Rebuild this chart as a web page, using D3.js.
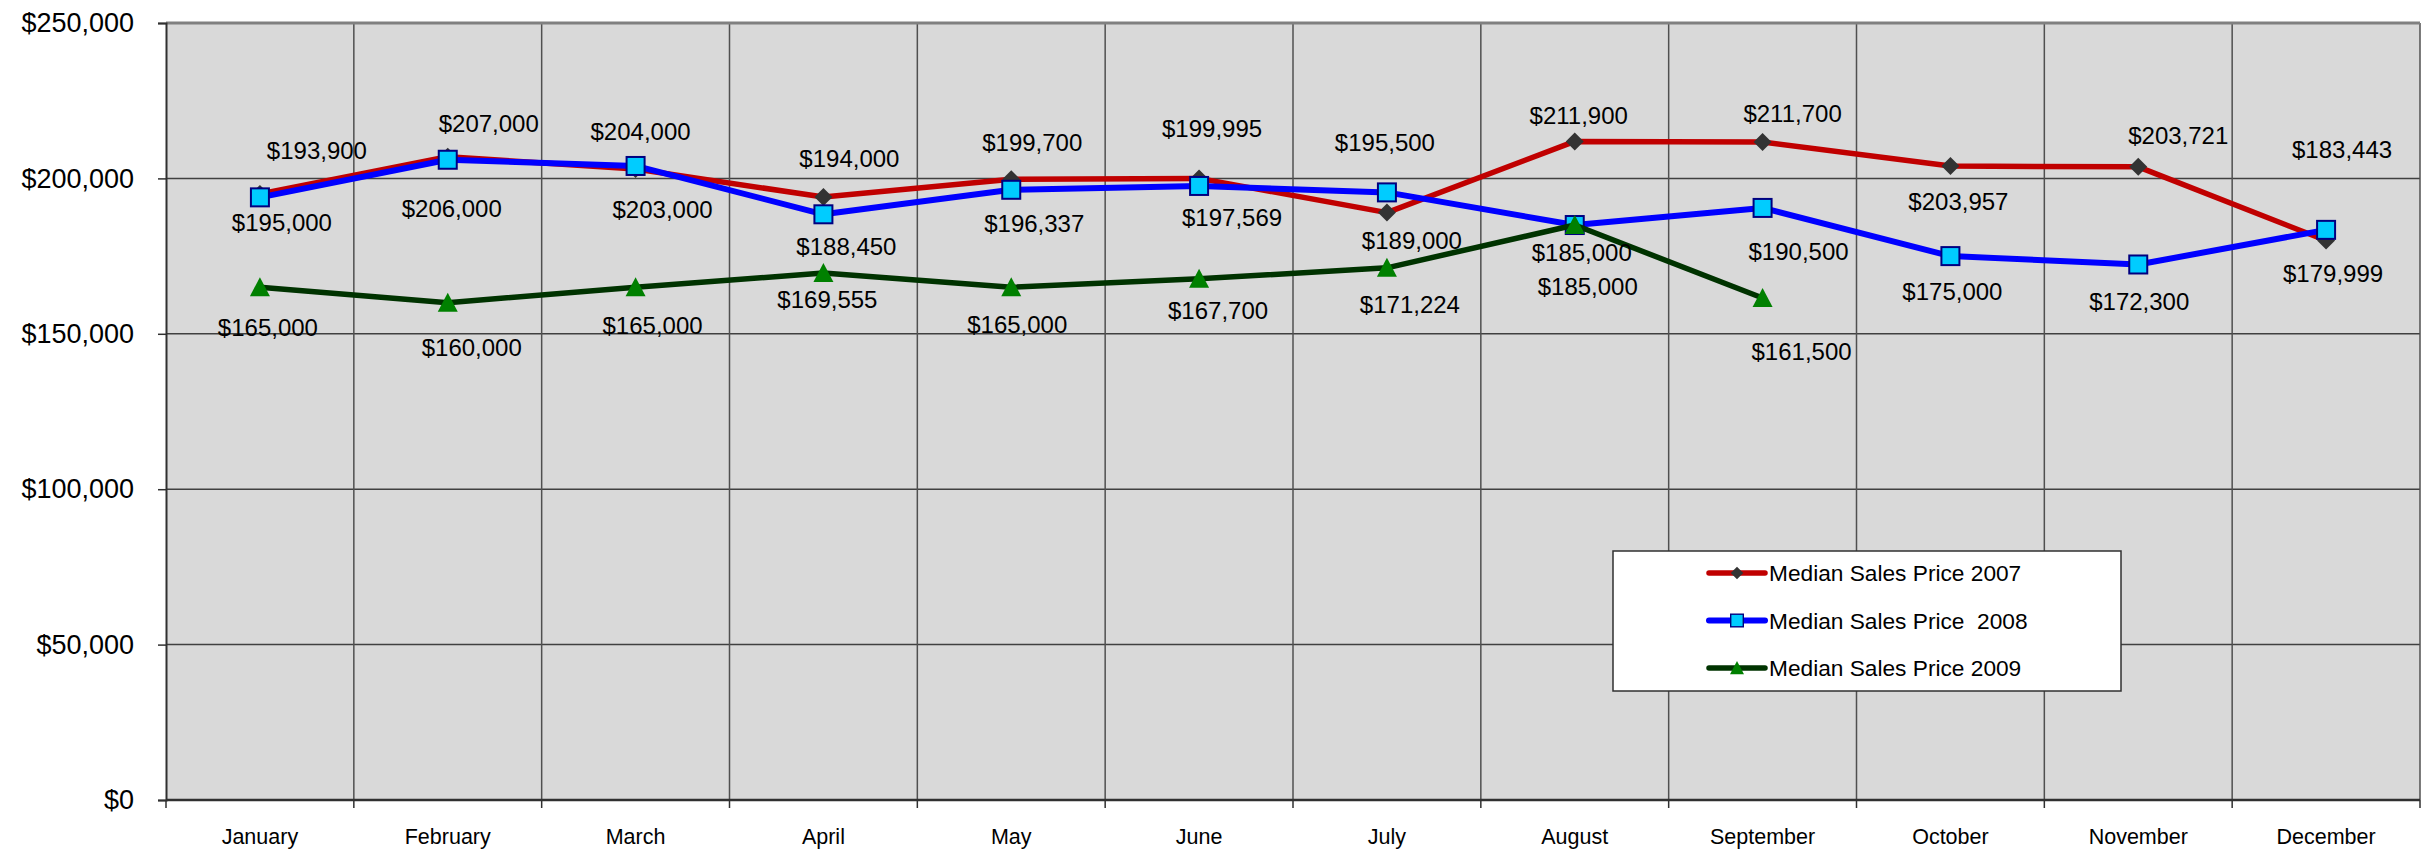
<!DOCTYPE html>
<html>
<head>
<meta charset="utf-8">
<script src="https://cdn.jsdelivr.net/npm/d3@7"></script>
<style>
  body { margin: 0; background: #fff; }
  text { font-family: "Liberation Sans", Arial, sans-serif; fill: #000; }
</style>
</head>
<body>
<div id="chart"></div>
<script>
// --------------------------------------
//  Data
// --------------------------------------

const months = ["January", "February", "March", "April", "May", "June",
  "July", "August", "September", "October", "November", "December"];

const sales2007 = [195000, 207000, 203000, 194000, 199700, 199995, 189000, 211900, 211700, 203957, 203721, 179999];
const sales2008 = [193900, 206000, 204000, 188450, 196337, 197569, 195500, 185000, 190500, 175000, 172300, 183443];
const sales2009 = [165000, 160000, 165000, 169555, 165000, 167700, 171224, 185000, 161500];

const yTicks = [0, 50000, 100000, 150000, 200000, 250000];

const seriesNames = ["Median Sales Price 2007", "Median Sales Price  2008", "Median Sales Price 2009"];

// label nudges (px) from each point, as placed in the original
const nudge2007 = [[22, 29], [41, -33], [27, 40], [26, -39], [21, -37], [13, -50], [25, 28], [4, -26], [30, -29], [8, 35], [40, -31], [7, 33]];
const nudge2008 = [[57, -47], [4, 49], [5, -34], [23, 32], [23, 34], [33, 32], [-2, -50], [7, 27], [36, 44], [2, 35], [1, 37], [16, -80]];
const nudge2009 = [[8, 40], [24, 45], [17, 38], [4, 26], [6, 37], [19, 32], [23, 37], [13, 61], [39, 53]];

// --------------------------------------
//  Margin and canvas
// --------------------------------------

const width = 2427;
const height = 851;
const margin = {top: 23, right: 7, bottom: 51, left: 166};
const innerwidth = width - margin.left - margin.right;
const innerheight = height - margin.top - margin.bottom;

const svg = d3.select("#chart")
  .append("svg")
    .attr("width", width)
    .attr("height", height);

const inner = svg.append("g")
  .attr("transform", `translate(${margin.left}, ${margin.top})`);

// --------------------------------------
//  Scales
// --------------------------------------

const x = d3.scaleBand()
  .domain(months)
  .range([0, innerwidth])
  .padding(0);

const y = d3.scaleLinear()
  .domain([0, 250000])
  .range([innerheight, 0]);

const cx = m => x(m) + x.bandwidth() / 2;
const fmt = v => "$" + d3.format(",")(v);

// --------------------------------------
//  Plot area, grid
// --------------------------------------

inner.append("rect")
  .attr("width", innerwidth)
  .attr("height", innerheight)
  .attr("fill", "#d9d9d9");

inner.append("g")
  .selectAll("line")
  .data(yTicks.slice(1, -1))
  .join("line")
    .attr("x1", 0).attr("x2", innerwidth)
    .attr("y1", d => y(d)).attr("y2", d => y(d))
    .attr("stroke", "#404040")
    .attr("stroke-width", 1.5);

const bounds = months.map(m => x(m)).concat([innerwidth]);

inner.append("g")
  .selectAll("line")
  .data(bounds.slice(1))
  .join("line")
    .attr("x1", d => d).attr("x2", d => d)
    .attr("y1", 0).attr("y2", innerheight)
    .attr("stroke", "#505050")
    .attr("stroke-width", 1.5);

// top border
inner.append("line")
  .attr("x1", 0).attr("x2", innerwidth)
  .attr("y1", 0).attr("y2", 0)
  .attr("stroke", "#808080")
  .attr("stroke-width", 3);

// --------------------------------------
//  Axes
// --------------------------------------

const yAxis = inner.append("g")
  .call(d3.axisLeft(y).tickValues(yTicks).tickFormat(fmt).tickSize(8).tickPadding(24));

yAxis.select(".domain").attr("stroke", "#303030").attr("stroke-width", 2);
yAxis.selectAll(".tick line").attr("stroke", "#303030").attr("stroke-width", 1.5);
yAxis.selectAll(".tick text")
  .style("font-family", "'Liberation Sans', Arial, sans-serif")
  .style("font-size", "27px")
  .attr("fill", "#000");

const xAxis = inner.append("g")
  .attr("transform", `translate(0, ${innerheight})`);

xAxis.append("line")
  .attr("x1", 0).attr("x2", innerwidth)
  .attr("stroke", "#303030")
  .attr("stroke-width", 2.5);

xAxis.selectAll(".xtick")
  .data(bounds)
  .join("line")
    .attr("class", "xtick")
    .attr("x1", d => d).attr("x2", d => d)
    .attr("y1", 0).attr("y2", 8)
    .attr("stroke", "#303030")
    .attr("stroke-width", 1.5);

xAxis.selectAll(".xlabel")
  .data(months)
  .join("text")
    .attr("class", "xlabel")
    .attr("x", d => cx(d))
    .attr("y", 37)
    .attr("text-anchor", "middle")
    .attr("dominant-baseline", "central")
    .style("font-size", "21.5px")
    .text(d => d);

// --------------------------------------
//  Markers
// --------------------------------------

function drawMarker(g, kind) {
  if (kind === "diamond") {
    g.append("path")
      .attr("d", "M0,-9L9,0L0,9L-9,0Z")
      .attr("fill", "#333333");
  } else if (kind === "square") {
    g.append("rect")
      .attr("x", -9).attr("y", -9)
      .attr("width", 18).attr("height", 18)
      .attr("fill", "#00ccff")
      .attr("stroke", "#000080")
      .attr("stroke-width", 2);
  } else {
    g.append("path")
      .attr("d", "M0,-10L10,9L-10,9Z")
      .attr("fill", "#008000");
  }
}

// --------------------------------------
//  Series
// --------------------------------------

const series = [
  {name: seriesNames[0], values: sales2007, nudge: nudge2007, color: "#c00000", width: 5.5, marker: "diamond"},
  {name: seriesNames[1], values: sales2008, nudge: nudge2008, color: "#0000ff", width: 6, marker: "square"},
  {name: seriesNames[2], values: sales2009, nudge: nudge2009, color: "#003300", width: 5.5, marker: "triangle"}
];

const line = d3.line()
  .x((d, i) => cx(months[i]))
  .y(d => y(d));

series.forEach(s => {
  const g = inner.append("g");

  g.append("path")
    .attr("d", line(s.values))
    .attr("fill", "none")
    .attr("stroke", s.color)
    .attr("stroke-width", s.width)
    .attr("stroke-linejoin", "round");

  s.values.forEach((v, i) => {
    const mg = g.append("g")
      .attr("transform", `translate(${cx(months[i])}, ${y(v)})`);
    drawMarker(mg, s.marker);
  });
});

// data labels on top
series.forEach(s => {
  inner.append("g")
    .selectAll("text")
    .data(s.values)
    .join("text")
      .attr("x", (d, i) => cx(months[i]) + s.nudge[i][0])
      .attr("y", (d, i) => y(d) + s.nudge[i][1])
      .attr("text-anchor", "middle")
      .attr("dominant-baseline", "central")
      .style("font-size", "24px")
      .text(d => fmt(d));
});

// --------------------------------------
//  Legend
// --------------------------------------

const legend = svg.append("g")
  .attr("transform", "translate(1613, 551)");

legend.append("rect")
  .attr("width", 508)
  .attr("height", 140)
  .attr("fill", "#fff")
  .attr("stroke", "#303030")
  .attr("stroke-width", 1.5);

series.forEach((s, i) => {
  const row = legend.append("g")
    .attr("transform", `translate(0, ${22 + i * 47.5})`);

  row.append("line")
    .attr("x1", 96).attr("x2", 152)
    .attr("stroke", s.color)
    .attr("stroke-width", s.width)
    .attr("stroke-linecap", "round");

  const mg = row.append("g")
    .attr("transform", "translate(124, 0) scale(0.7)");
  drawMarker(mg, s.marker);

  row.append("text")
    .attr("x", 156)
    .attr("y", 0)
    .attr("dominant-baseline", "central")
    .attr("xml:space", "preserve")
    .style("white-space", "pre")
    .style("font-size", "22.7px")
    .text(s.name);
});
</script>
</body>
</html>
